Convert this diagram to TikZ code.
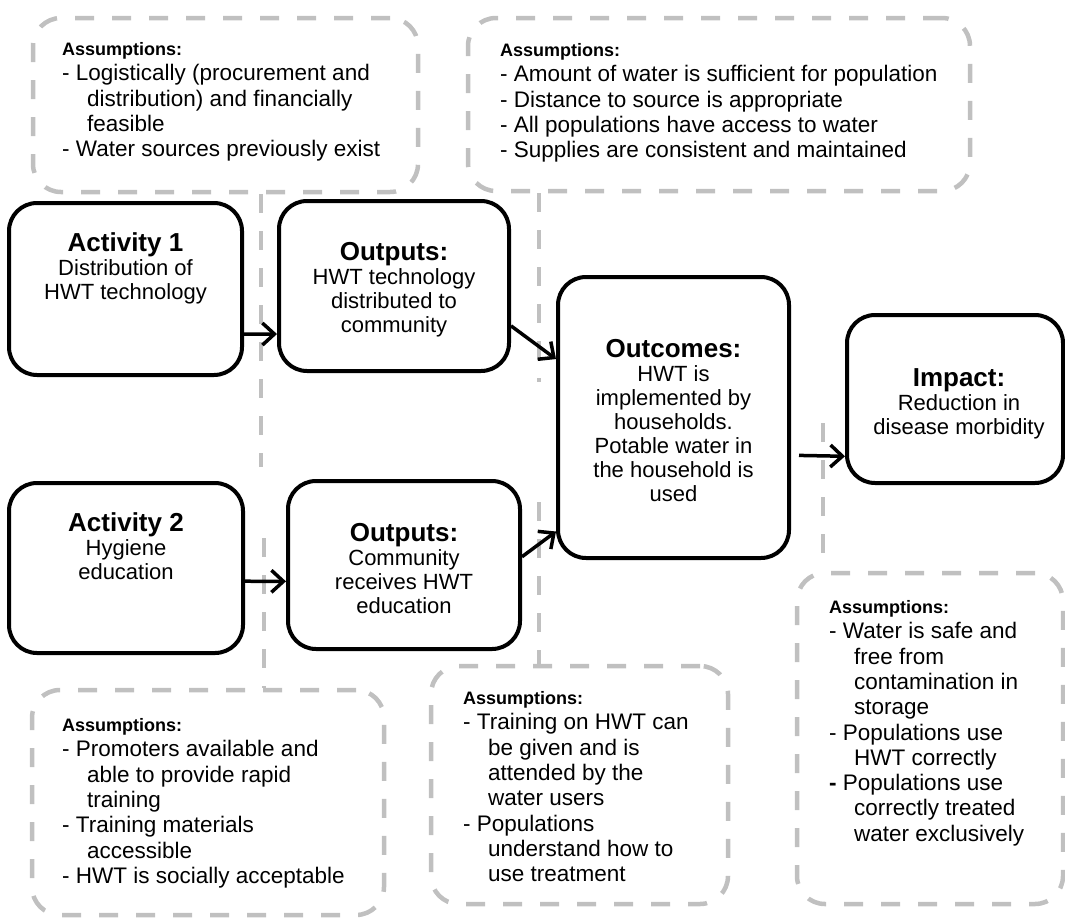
\documentclass[tikz,border=0pt]{standalone}
\usepackage{fontspec}
\setmainfont{Liberation Sans}
\usetikzlibrary{arrows.meta,calc}
\definecolor{dashgray}{RGB}{192,192,192}
\newcommand{\contline}{\hspace*{25pt}}
\newcommand{\boxtitle}[1]{{\fontsize{26}{24}\selectfont\bfseries #1}}
\newcommand{\notehead}{{\fontsize{18}{25.3}\selectfont\bfseries Assumptions:}}
\begin{document}
\begin{tikzpicture}[x=1pt,y=-1pt,
  stepbox/.style={draw=black, line width=4pt, rounded corners=28pt, inner sep=0pt},
  assumbox/.style={draw=dashgray, line width=4.5pt, rounded corners=28pt, dash pattern=on 19pt off 18pt, inner sep=0pt},
  link/.style={draw=dashgray, line width=4.5pt, dash pattern=on 19pt off 18pt},
  flow/.style={draw=black, line width=3.5pt, -{Straight Barb[length=12pt,width=22pt]}},
  boxtext/.style={align=center, font=\fontsize{22}{24}\selectfont, inner sep=0pt, anchor=base},
  notetext/.style={align=left, font=\fontsize{22.5}{25.3}\selectfont, inner sep=0pt, anchor=base west}]
\useasboundingbox (0,0) rectangle (1065,921);

% assumption panels
\node[assumbox, minimum width=385pt, minimum height=174pt] (asTL) at (225.5,105) {};
\node[assumbox, minimum width=502pt, minimum height=173pt] (asTR) at (719,104.5) {};
\node[assumbox, minimum width=352pt, minimum height=225pt] (asBL) at (208,802.5) {};
\node[assumbox, minimum width=297pt, minimum height=238pt] (asBM) at (579.5,785) {};
\node[assumbox, minimum width=266pt, minimum height=331pt] (asBR) at (930,738.5) {};

% dashed links between the panels
\coordinate (l1b) at (261,467);
\coordinate (l2a) at (264,538);
\coordinate (l3b) at (539,382);
\coordinate (l4a) at (539,502);
\coordinate (l5a) at (823,423);
\draw[link] (asTL.south -| l1b) -- (l1b);
\draw[link] (l2a) -- (l2a |- asBL.north);
\draw[link] (asTR.south -| l3b) -- (l3b);
\draw[link] (l4a) -- (l4a |- asBM.north);
\draw[link] (l5a) -- (l5a |- asBR.north);

% logic model boxes
\node[stepbox, minimum width=233pt, minimum height=172pt] (act1) at (125.5,289) {};
\node[stepbox, minimum width=230pt, minimum height=170pt] (out1) at (394,286) {};
\node[stepbox, minimum width=231pt, minimum height=281pt] (outc) at (673.5,417.5) {};
\node[stepbox, minimum width=216pt, minimum height=168pt] (imp) at (955,399) {};
\node[stepbox, minimum width=234pt, minimum height=170pt] (act2) at (126,568) {};
\node[stepbox, minimum width=232pt, minimum height=168pt] (out2) at (404,565) {};

% box texts (anchored at the baseline of their last line)
\node[boxtext] (act1t) at (125.5,299) {\boxtitle{Activity 1}\\Distribution of\\HWT technology};
\node[boxtext] (out1t) at (394,332) {\boxtitle{Outputs:}\\HWT technology\\distributed to\\community};
\node[boxtext] (outct) at (673.5,501) {\boxtitle{Outcomes:}\\HWT is\\implemented by\\households.\\Potable water in\\the household is\\used};
\node[boxtext] (impt) at (959,434) {\boxtitle{Impact:}\\Reduction in\\disease morbidity};
\node[boxtext] (act2t) at (126,579) {\boxtitle{Activity 2}\\Hygiene\\education};
\node[boxtext] (out2t) at (404,613) {\boxtitle{Outputs:}\\Community\\receives HWT\\education};

% connectors
\draw[flow] ($(act1.north east)!0.756!(act1.south east)$) -- ($(out1.north west)!0.776!(out1.south west)$);
\draw[flow] ($(out1.north east)!0.729!(out1.south east)$) -- ($(outc.north west)!0.295!(outc.south west)$);
\draw[flow] ($(act2.north east)!0.576!(act2.south east)$) -- ($(out2.north west)!0.595!(out2.south west)$);
\draw[flow] ($(out2.north east)!0.452!(out2.south east)$) -- ($(outc.north west)!0.9!(outc.south west)$);
\draw[flow] ([xshift=8pt]$(outc.north east)!0.633!(outc.south east)$) -- ($(imp.north west)!0.833!(imp.south west)$);

% assumption texts (anchored at the baseline of their last line)
\node[notetext] (asTLt) at (62,156.7) {\notehead\\
- Logistically (procurement and\\
\contline distribution) and financially\\
\contline feasible\\
- Water sources previously exist};
\node[notetext] (asTRt) at (500,157.7) {\notehead\\
- Amount of water is sufficient for population\\
- Distance to source is appropriate\\
- All populations have access to water\\
- Supplies are consistent and maintained};
\node[notetext] (asBLt) at (62,883.3) {\notehead\\
- Promoters available and\\
\contline able to provide rapid\\
\contline training\\
- Training materials\\
\contline accessible\\
- HWT is socially acceptable};
\node[notetext] (asBMt) at (463,881.6) {\notehead\\
- Training on HWT can\\
\contline be given and is\\
\contline attended by the\\
\contline water users\\
- Populations\\
\contline understand how to\\
\contline use treatment};
\node[notetext] (asBRt) at (829,841.2) {\notehead\\
- Water is safe and\\
\contline free from\\
\contline contamination in\\
\contline storage\\
- Populations use\\
\contline HWT correctly\\
\textbf{-} Populations use\\
\contline correctly treated\\
\contline water exclusively};
\end{tikzpicture}
\end{document}
